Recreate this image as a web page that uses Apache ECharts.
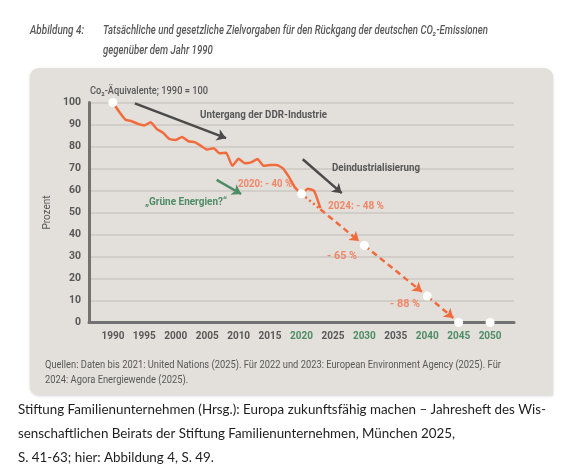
<!DOCTYPE html>
<html>
<head>
<meta charset="utf-8">
<script src="https://cdn.jsdelivr.net/npm/echarts@6/dist/echarts.min.js"></script>
<style>
  html, body { margin: 0; padding: 0; background: #fff; }
  #chart { width: 580px; height: 474px; }
</style>
</head>
<body>
<div id="chart"></div>
<script>
// Ist-Werte (1990 = 100)
var years = [1990, 1991, 1992, 1993, 1994, 1995, 1996, 1997, 1998, 1999,
             2000, 2001, 2002, 2003, 2004, 2005, 2006, 2007, 2008, 2009,
             2010, 2011, 2012, 2013, 2014, 2015, 2016, 2017, 2018, 2019,
             2020, 2021, 2022, 2023];
var emissions = [100, 95.8, 92.2, 91.5, 90.3, 89.6, 91.0, 87.9, 86.2, 83.4,
                 83.0, 84.3, 82.4, 82.0, 80.3, 78.6, 79.2, 76.9, 77.2, 71.2,
                 74.4, 72.4, 72.8, 74.3, 71.2, 71.6, 71.6, 70.2, 66.2, 61.2,
                 58.5, 60.8, 59.8, 52.0];

// gesetzliche Zielvorgaben
var targetYears = [2020, 2030, 2040, 2045, 2050];
var targetValues = [58.5, 35, 12, 0, 0];

var xTickYears = [1990, 1995, 2000, 2005, 2010, 2015, 2020, 2025, 2030, 2035, 2040, 2045, 2050];
var greenYears = [2020, 2030, 2040, 2045, 2050];

var FONT = 'Roboto, "Liberation Sans", sans-serif';
var GREY = '#58585a';
var ORANGE = '#f26b3d';
var ORANGE_TXT = '#f08767';
var GREEN = '#4e8c66';

var chartDom = document.getElementById('chart');
var myChart = echarts.init(chartDom);

// Text auf eine Zielbreite stauchen (Vorlage nutzt eine schmale Schrift)
var measureCtx = document.createElement('canvas').getContext('2d');
function fitText(text, font, color, x, y, width, lineHeight) {
    measureCtx.font = font;
    var w = 0;
    text.split('\n').forEach(function (l) {
        w = Math.max(w, measureCtx.measureText(l).width);
    });
    var style = { text: text, font: font, fill: color, verticalAlign: lineHeight ? 'top' : 'middle' };
    if (lineHeight) style.lineHeight = lineHeight;
    return { type: 'text', x: x, y: y, scaleX: width / w, z: 100, silent: true, style: style };
}

// Ist-Linie
var actualData = years.map(function (y, i) { return [y, emissions[i]]; });

// Ziel-Pfad: gepunktet bis zum letzten Ist-Jahr, danach gestrichelt mit Pfeilen
function lerp(i, x) {
    var x0 = targetYears[i], x1 = targetYears[i + 1];
    var y0 = targetValues[i], y1 = targetValues[i + 1];
    return y0 + (y1 - y0) * (x - x0) / (x1 - x0);
}
var lastYear = years[years.length - 1];
var splitPoint = [lastYear, lerp(0, lastYear)];
var dottedData = [{ coords: [[targetYears[0], targetValues[0]], splitPoint] }];
var dashedData = [];
for (var i = 0; i < 3; i++) {
    var start = i === 0 ? splitPoint : [targetYears[i], targetValues[i]];
    var endX = targetYears[i + 1] - 0.85;
    dashedData.push({ coords: [start, [endX, lerp(i, endX)]] });
}

// weisse Punkte
var dotData = [[years[0], emissions[0]]].concat(targetYears.map(function (y, i) {
    return [y, targetValues[i]];
}));

var option = {
    animation: false,
    textStyle: { fontFamily: FONT },
    grid: { left: 89, right: 66, top: 102.5, bottom: 151.5 },
    xAxis: {
        type: 'value',
        min: 1986.2,
        max: 2053.8,
        axisLine: { lineStyle: { color: '#727272', width: 3 } },
        axisTick: { show: false },
        splitLine: { show: false },
        axisLabel: {
            customValues: xTickYears,
            margin: 9,
            fontSize: 10,
            fontWeight: 'bold',
            fontFamily: FONT,
            formatter: function (v) {
                return greenYears.indexOf(v) >= 0 ? '{g|' + v + '}' : '{d|' + v + '}';
            },
            rich: {
                g: { color: GREEN, fontSize: 10, fontWeight: 'bold', fontFamily: FONT },
                d: { color: GREY, fontSize: 10, fontWeight: 'bold', fontFamily: FONT }
            }
        }
    },
    yAxis: {
        type: 'value',
        min: 0,
        max: 100,
        interval: 10,
        name: 'Prozent',
        nameLocation: 'middle',
        nameRotate: 90,
        nameGap: 26,
        nameTextStyle: { color: GREY, fontSize: 10, fontFamily: FONT },
        axisLine: { show: true, lineStyle: { color: '#727272', width: 3 } },
        axisTick: { show: false },
        axisLabel: { color: GREY, fontSize: 10.5, fontWeight: 'bold', margin: 8, fontFamily: FONT },
        splitLine: { lineStyle: { color: '#cbc7c2', width: 1.5 } }
    },
    graphic: [
        {
            type: 'rect', z: -10, silent: true,
            shape: { x: 30, y: 68, width: 523, height: 327, r: [9, 9, 0, 9] },
            style: { fill: '#e3dfda', shadowBlur: 3, shadowColor: 'rgba(0,0,0,0.18)', shadowOffsetY: 1 }
        },
        fitText('Abbildung 4:', 'italic 500 12px Roboto', GREY, 30, 31, 54),
        fitText('Tatsächliche und gesetzliche Zielvorgaben für den Rückgang der deutschen CO₂-Emissionen\ngegenüber dem Jahr 1990',
            'italic 500 12px Roboto', GREY, 103, 21, 385, 20),
        fitText('Co₂-Äquivalente; 1990 = 100', '500 10.5px Roboto', GREY, 90, 91, 118),
        fitText('Untergang der DDR-Industrie', 'bold 11px Roboto', GREY, 200, 115, 127),
        fitText('Deindustrialisierung', 'bold 11px Roboto', GREY, 332, 168, 88),
        fitText('„Grüne Energien?“', 'bold 11px Roboto', GREEN, 145, 202, 82),
        fitText('2020: - 40 %', 'bold 11px Roboto', ORANGE_TXT, 238, 184, 54),
        fitText('2024: - 48 %', 'bold 11px Roboto', ORANGE_TXT, 328, 206.5, 56),
        fitText('- 65 %', 'bold 11px Roboto', ORANGE_TXT, 327, 256.5, 30),
        fitText('- 88 %', 'bold 11px Roboto', ORANGE_TXT, 390, 304.5, 30),
        fitText('Quellen: Daten bis 2021: United Nations (2025). Für 2022 und 2023: European Environment Agency (2025). Für\n2024: Agora Energiewende (2025).',
            '10px Roboto', GREY, 45, 358, 456, 15),
        fitText('Stiftung Familienunternehmen (Hrsg.): Europa zukunftsfähig machen – Jahresheft des Wis-\nsenschaftlichen Beirats der Stiftung Familienunternehmen, München 2025,\nS. 41-63; hier: Abbildung 4, S. 49.',
            '13.5px Lato', '#1e1e1e', 18, 397.5, 528, 24)
    ],
    series: [
        {
            name: 'Ist',
            type: 'line',
            data: actualData,
            showSymbol: false,
            smooth: 0.15,
            lineStyle: { color: ORANGE, width: 2.5 },
            z: 3
        },
        {
            name: 'Ziel gepunktet',
            type: 'lines',
            coordinateSystem: 'cartesian2d',
            data: dottedData,
            symbol: ['none', 'none'],
            lineStyle: { color: ORANGE, width: 2.5, type: [2, 3], opacity: 1 },
            z: 3
        },
        {
            name: 'Ziel',
            type: 'lines',
            coordinateSystem: 'cartesian2d',
            data: dashedData,
            symbol: ['none', 'arrow'],
            symbolSize: 9,
            lineStyle: { color: ORANGE, width: 2.5, type: [6, 4], opacity: 1 },
            z: 3
        },
        {
            name: 'Hinweise',
            type: 'lines',
            coordinateSystem: 'cartesian2d',
            silent: true,
            symbol: ['none', 'arrow'],
            symbolSize: 9,
            lineStyle: { width: 2.5, opacity: 1 },
            data: [
                { coords: [[1993.5, 99.6], [2008.0, 83.8]], lineStyle: { color: '#4a4a4a' } },
                { coords: [[2020.2, 74.2], [2026.4, 58.8]], lineStyle: { color: '#4a4a4a' } },
                { coords: [[2006.5, 64.8], [2010.4, 58.4]], lineStyle: { color: GREEN } }
            ],
            z: 3
        },
        {
            name: 'Punkte',
            type: 'scatter',
            data: dotData,
            symbolSize: 9,
            itemStyle: { color: '#ffffff', opacity: 1 },
            z: 5
        }
    ]
};

option && myChart.setOption(option);
</script>
</body>
</html>
